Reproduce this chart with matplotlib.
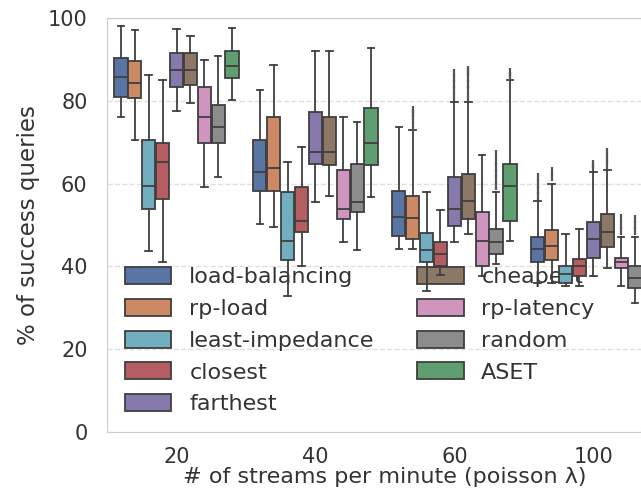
import colorsys
import matplotlib
matplotlib.use("Agg")
import matplotlib.pyplot as plt
from matplotlib import colors as mcolors
from matplotlib.patches import Patch

# categories and methods
streams = ["20", "40", "60", "100"]
methods = ["load-balancing", "rp-load", "least-impedance", "closest", "farthest",
           "cheapest", "rp-latency", "random", "ASET"]
palette = ["#4C72B0", "#DD8452", "#64B5CD", "#C44E52", "#8172B3",
           "#937860", "#DA8BC3", "#8C8C8C", "#55A868"]

# box stats per method, one value per stream rate (20, 40, 60, 100)
whis_lo = [[76.1, 50.2, 44.2, 36.1],
           [70.5, 49.4, 44.2, 36.1],
           [43.8, 32.8, 34.0, 35.3],
           [41.0, 40.0, 38.0, 35.3],
           [77.4, 55.5, 45.8, 37.7],
           [79.4, 57.1, 47.8, 39.7],
           [59.1, 45.8, 37.7, 35.3],
           [61.6, 44.0, 40.5, 31.2],
           [80.2, 56.7, 46.2, 41.0]]
q1 = [[81.0, 58.3, 47.4, 41.1],
      [80.6, 58.3, 46.6, 41.6],
      [53.9, 41.6, 41.0, 36.1],
      [56.3, 48.2, 40.0, 37.7],
      [83.4, 64.8, 49.8, 42.1],
      [83.9, 64.4, 51.5, 44.6],
      [69.7, 51.5, 40.1, 39.7],
      [69.7, 53.1, 43.0, 34.9],
      [85.4, 64.4, 51.0, 45.4]]
median = [[85.8, 62.8, 51.9, 44.2],
          [84.2, 63.7, 51.6, 45.0],
          [59.5, 46.2, 44.0, 38.1],
          [65.2, 51.0, 43.0, 40.1],
          [87.5, 67.6, 53.9, 46.6],
          [87.5, 67.6, 55.9, 48.2],
          [76.1, 53.9, 46.2, 41.0],
          [73.7, 55.5, 45.8, 37.3],
          [88.3, 69.7, 59.5, 47.8]]
q3 = [[90.3, 70.5, 58.3, 47.0],
      [89.5, 76.1, 57.1, 48.8],
      [70.5, 57.9, 48.1, 40.1],
      [69.7, 59.1, 45.8, 41.7],
      [91.5, 77.3, 61.6, 50.6],
      [91.5, 76.1, 62.4, 52.7],
      [83.4, 63.2, 53.1, 42.1],
      [79.0, 64.8, 49.0, 40.1],
      [91.9, 78.2, 64.8, 51.8]]
whis_hi = [[98.0, 82.6, 73.7, 55.9],
           [97.0, 88.5, 72.9, 60.0],
           [86.3, 65.2, 57.9, 47.8],
           [85.0, 68.9, 53.5, 49.0],
           [97.2, 92.1, 79.8, 62.7],
           [95.5, 92.1, 79.8, 63.2],
           [89.9, 76.1, 67.0, 47.0],
           [90.7, 74.9, 57.9, 47.0],
           [97.6, 92.7, 85.0, 60.0]]
# outliers above the whisker caps: (method index, stream index) -> values
outliers = {(1, 2): [74.0, 75.5, 77.0, 77.7],
            (4, 2): [81.0, 82.5, 84.0, 85.5, 86.7],
            (5, 2): [81.0, 82.5, 84.0, 85.5, 87.0, 87.5],
            (7, 2): [59.5, 61.0, 62.5, 64.0, 65.5, 67.2],
            (8, 2): [86.0, 87.0],
            (0, 3): [57.0, 58.5, 60.0, 61.6],
            (1, 3): [61.5, 63.0],
            (4, 3): [64.0, 64.8],
            (5, 3): [64.5, 66.0, 67.6],
            (6, 3): [48.5, 50.0, 51.8],
            (7, 3): [48.5, 50.0, 51.5]}


def desat(c, s=0.75):
    r, g, b = mcolors.to_rgb(c)
    h, l, sat = colorsys.rgb_to_hls(r, g, b)
    return colorsys.hls_to_rgb(h, l, sat * s)


fig = plt.figure(figsize=(6.41, 4.95), dpi=100)
ax = fig.add_axes([0.167, 0.127, 0.867, 0.837])

edge = "#3f3f3f"
n = len(methods)
for j, m in enumerate(methods):
    stats = []
    pos = []
    for i in range(len(streams)):
        stats.append(dict(whislo=whis_lo[j][i], q1=q1[j][i], med=median[j][i],
                          q3=q3[j][i], whishi=whis_hi[j][i],
                          fliers=outliers.get((j, i), [])))
        pos.append(i + (j - (n - 1) / 2) * 0.1)
    ax.bxp(stats, positions=pos, widths=0.095, patch_artist=True,
           boxprops=dict(facecolor=desat(palette[j]), edgecolor=edge, linewidth=1.3),
           medianprops=dict(color=edge, linewidth=1.3),
           whiskerprops=dict(color=edge, linewidth=1.3),
           capprops=dict(color=edge, linewidth=1.3),
           flierprops=dict(marker="|", markersize=6, markeredgewidth=1.6,
                           markeredgecolor="#555555"),
           manage_ticks=False)

ax.set_xlim(-0.5, len(streams) - 0.5)
ax.set_ylim(0, 100)
ax.set_xticks(range(len(streams)))
ax.set_xticklabels(streams)
ax.set_yticks([0, 20, 40, 60, 80, 100])
ax.tick_params(axis="y", length=0, labelsize=15, colors="#333333", pad=14)
ax.tick_params(axis="x", length=0, labelsize=15, colors="#333333", pad=11)
ax.yaxis.grid(True, linestyle="--", color="#e0e0e0", linewidth=1)
ax.set_axisbelow(True)
for s in ax.spines.values():
    s.set_color("#cccccc")
ax.set_xlabel("# of streams per minute (poisson λ)", fontsize=16, color="#333333", labelpad=0)
ax.set_ylabel("% of success queries", fontsize=16.5, color="#333333", labelpad=6)

handles = [Patch(facecolor=desat(c), edgecolor=edge, linewidth=1.3) for c in palette]
leg = ax.legend(handles, methods, ncol=2, loc="lower left", frameon=False,
                fontsize=16, handlelength=2.1, handleheight=0.8, handletextpad=0.8,
                labelspacing=0.52, columnspacing=1.9, borderaxespad=0.4,
                bbox_to_anchor=(0.0, 0.0))
for t in leg.get_texts():
    t.set_color("#333333")
leg.set_zorder(1.5)

fig.savefig("out.png", dpi=100)
